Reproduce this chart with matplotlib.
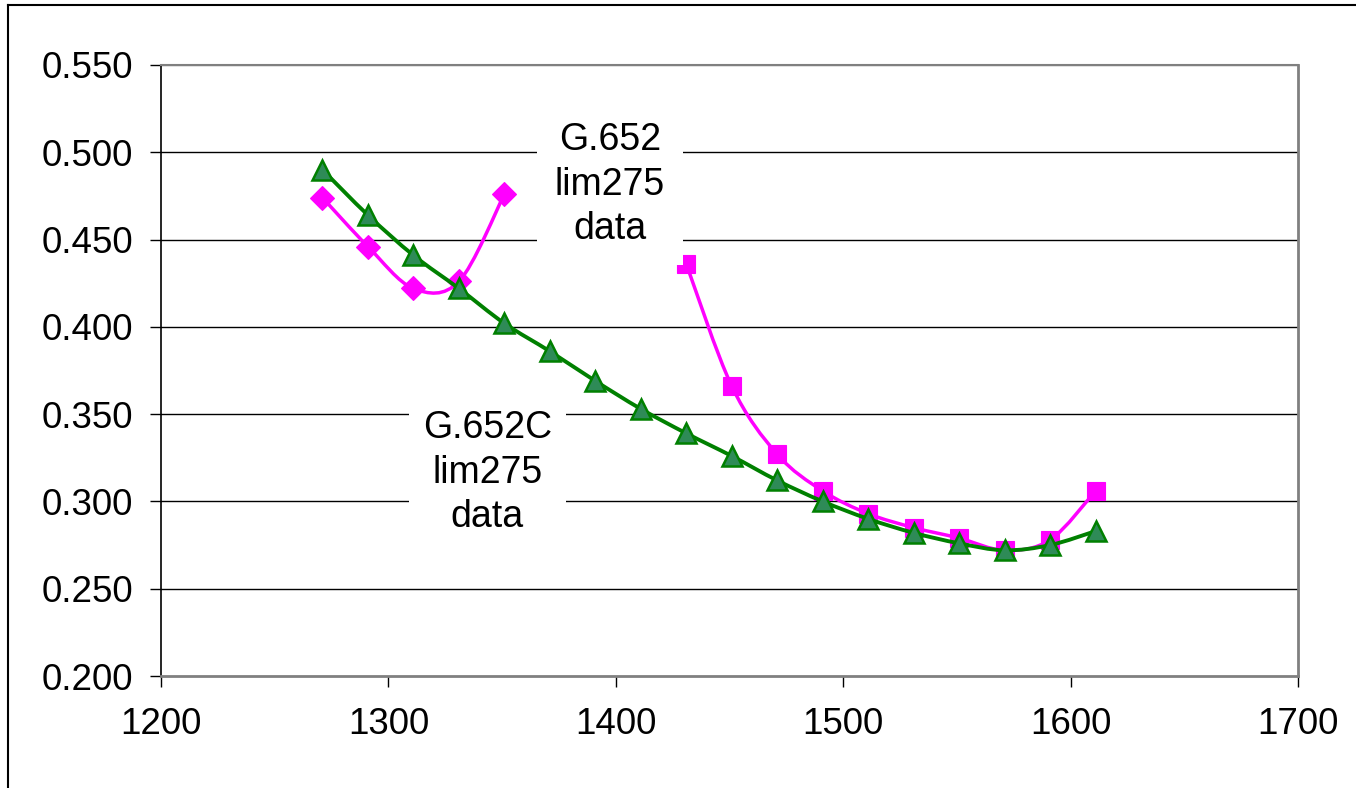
import matplotlib
matplotlib.use("Agg")
import matplotlib.pyplot as plt
from matplotlib.path import Path
from matplotlib.patches import PathPatch
from matplotlib.lines import Line2D

plt.rcParams['font.family'] = ['Liberation Sans', 'DejaVu Sans']

# ---- data ----
wl_g652_a = [1271, 1291, 1311, 1331, 1351]
att_g652_a = [0.474, 0.446, 0.422, 0.426, 0.476]

wl_g652_b = [1431, 1451, 1471, 1491, 1511, 1531, 1551, 1571, 1591, 1611]
att_g652_b = [0.436, 0.366, 0.327, 0.306, 0.293, 0.285, 0.279, 0.272, 0.278, 0.306]

wl_g652c = [1271, 1291, 1311, 1331, 1351, 1371, 1391, 1411, 1431, 1451,
            1471, 1491, 1511, 1531, 1551, 1571, 1591, 1611]
att_g652c = [0.490, 0.464, 0.441, 0.422, 0.402, 0.386, 0.369, 0.353, 0.339, 0.326,
             0.312, 0.300, 0.290, 0.282, 0.276, 0.272, 0.275, 0.283]

x_ticks = [1200, 1300, 1400, 1500, 1600, 1700]
y_ticks = [0.200, 0.250, 0.300, 0.350, 0.400, 0.450, 0.500, 0.550]

label_g652 = "G.652\nlim275\ndata"
label_g652c = "G.652C\nlim275\ndata"

MAGENTA = "#FF00FF"
GREEN = "#008000"
GREEN_FILL = "#2E8B57"


def smooth_path(xs, ys):
    pts = list(zip(xs, ys))
    n = len(pts)
    verts = [pts[0]]
    codes = [Path.MOVETO]
    for i in range(n - 1):
        p0 = pts[i - 1] if i > 0 else pts[i]
        p1 = pts[i]
        p2 = pts[i + 1]
        p3 = pts[i + 2] if i + 2 < n else pts[i + 1]
        c1 = (p1[0] + (p2[0] - p0[0]) / 6.0, p1[1] + (p2[1] - p0[1]) / 6.0)
        c2 = (p2[0] - (p3[0] - p1[0]) / 6.0, p2[1] - (p3[1] - p1[1]) / 6.0)
        verts += [c1, c2, p2]
        codes += [Path.CURVE4] * 3
    return Path(verts, codes)


fig = plt.figure(figsize=(13.56, 7.88), dpi=100)
ax = fig.add_axes([161 / 1356, 1 - 676 / 788, (1298 - 161) / 1356, (676 - 65) / 788])

ax.set_xlim(1200, 1700)
ax.set_ylim(0.200, 0.550)

# gridlines
for yv in y_ticks[1:]:
    ax.axhline(yv, color="#000000" if yv < 0.55 else "#808080", lw=1.0, zorder=1)

series = [
    (wl_g652_a, att_g652_a, MAGENTA, MAGENTA, 'D', 12, 2.5),
    (wl_g652_b, att_g652_b, MAGENTA, MAGENTA, 's', 12.5, 2.5),
    (wl_g652c, att_g652c, GREEN, GREEN_FILL, '^', 15, 2.8),
]
z = 3
for xs, ys, lc, fc, mk, ms, lw in series:
    ax.add_patch(PathPatch(smooth_path(xs, ys), facecolor='none', edgecolor=lc,
                           lw=lw, zorder=z, capstyle='round', joinstyle='round'))
    ax.plot(xs, ys, linestyle='none', marker=mk, ms=ms, mfc=fc, mec=lc,
            mew=1.8 if mk == '^' else 0.8, zorder=z + 0.5)
    z += 1

# text annotations with white boxes
ax.text(1397.5, 0.4815, label_g652, ha='center', va='center', fontsize=27,
        linespacing=1.3, zorder=10,
        bbox=dict(boxstyle='square,pad=0.48', fc='white', ec='none'))
ax.text(1343.5, 0.3165, label_g652c, ha='center', va='center', fontsize=27,
        linespacing=1.3, zorder=10,
        bbox=dict(boxstyle='square,pad=0.38', fc='white', ec='none'))

# axes styling
ax.set_xticks(x_ticks)
ax.set_yticks(y_ticks)
ax.set_yticklabels([f"{v:.3f}" for v in y_ticks])
ax.tick_params(axis='both', direction='out', length=8, width=1, color='black',
               labelsize=26.5)
ax.tick_params(axis='y', pad=12)
ax.tick_params(axis='x', pad=14)
ax.spines['left'].set_color('black')
ax.spines['left'].set_linewidth(1.2)
ax.spines['bottom'].set_color('#808080')
ax.spines['bottom'].set_linewidth(2)
ax.spines['right'].set_color('#808080')
ax.spines['right'].set_linewidth(2)
ax.spines['top'].set_color('#808080')
ax.spines['top'].set_linewidth(1.5)

# outer frame (top and left edges visible)
fig.add_artist(Line2D([8 / 1356, 1.0], [1 - 5 / 788, 1 - 5 / 788],
                      transform=fig.transFigure, color='black', lw=1.5))
fig.add_artist(Line2D([8 / 1356, 8 / 1356], [0.0, 1 - 5 / 788],
                      transform=fig.transFigure, color='black', lw=1.5))

fig.savefig("out.png", dpi=100)
